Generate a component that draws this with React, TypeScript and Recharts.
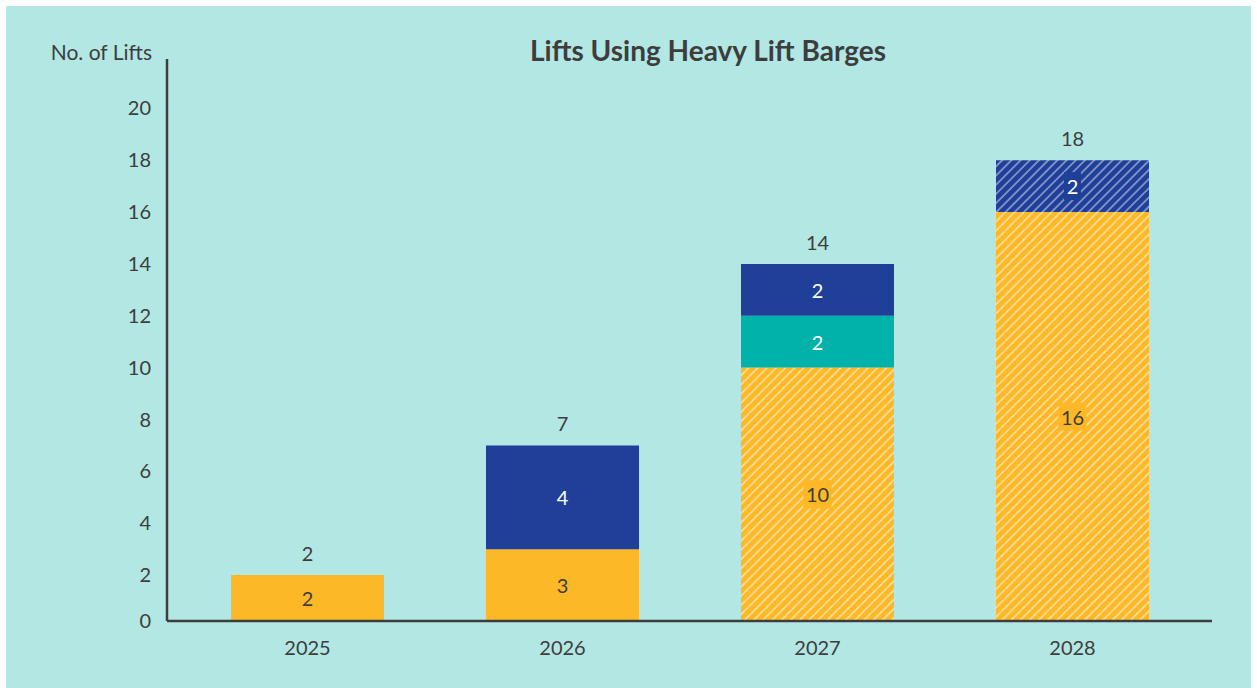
import { Bar, ComposedChart, LabelList, Line, XAxis, YAxis } from "recharts";

const years = ["2025", "2026", "2027", "2028"];
const yellowSolid = [2, 3, 0, 0];
const yellowHatched = [0, 0, 10, 16];
const tealSolid = [0, 0, 2, 0];
const navySolid = [0, 4, 2, 0];
const navyHatched = [0, 0, 0, 2];
const totals = [2, 7, 14, 18];
// the source draws its axis a touch above zero; the first tick sits on that line
const yFloor = 0.23;
const yTicks = [yFloor, 2, 4, 6, 8, 10, 12, 14, 16, 18, 20];

const data = years.map((year, i) => ({
  year,
  yellowSolid: yellowSolid[i],
  yellowHatched: yellowHatched[i],
  tealSolid: tealSolid[i],
  navySolid: navySolid[i],
  navyHatched: navyHatched[i],
  total: totals[i],
}));

const FONT = "Lato, 'Open Sans', sans-serif";
const INK = "#3d3d3d";
const YELLOW = "#FDB827";
const NAVY = "#1F3F99";
const TEAL = "#00B2AA";
const BG = "#B3E7E3";

// label in the middle of a segment, optional solid box behind it (hatched fills)
function segLabel(color: string, box?: string) {
  return (props: any) => {
    const { x, y, width, height, value } = props;
    if (!value) return null;
    const cx = x + width / 2;
    const cy = y + height / 2;
    const w = String(value).length * 11 + 6;
    return (
      <g>
        {box && <rect x={cx - w / 2} y={cy - 14} width={w} height={28} fill={box} />}
        <text
          x={cx}
          y={cy}
          textAnchor="middle"
          dominantBaseline="central"
          fill={color}
          fontSize={20}
          fontFamily={FONT}
        >
          {value}
        </text>
      </g>
    );
  };
}

export default function App() {
  return (
    <div
      style={{
        position: "absolute",
        left: 6,
        top: 6,
        width: 1245,
        height: 682,
        background: BG,
        fontFamily: FONT,
      }}
    >
      <div
        style={{
          position: "absolute",
          left: 0,
          width: 146,
          top: 33,
          textAlign: "right",
          fontSize: 21,
          color: INK,
        }}
      >
        No. of Lifts
      </div>
      <div
        style={{
          position: "absolute",
          left: 402,
          width: 600,
          top: 27,
          textAlign: "center",
          fontSize: 28,
          fontWeight: 700,
          color: INK,
        }}
      >
        Lifts Using Heavy Lift Barges
      </div>
      <ComposedChart
        width={1245}
        height={682}
        data={data}
        margin={{ top: 53, right: 39, left: 0, bottom: 37 }}
        barCategoryGap="20%"
      >
        <defs>
          <pattern
            id="hatchYellow"
            patternUnits="userSpaceOnUse"
            width={6.5}
            height={6.5}
            patternTransform="rotate(45)"
          >
            <rect width={6.5} height={6.5} fill={YELLOW} />
            <line x1={1} y1={0} x2={1} y2={6.5} stroke="rgba(255,255,255,0.55)" strokeWidth={1.6} />
          </pattern>
          <pattern
            id="hatchNavy"
            patternUnits="userSpaceOnUse"
            width={6.5}
            height={6.5}
            patternTransform="rotate(45)"
          >
            <rect width={6.5} height={6.5} fill={NAVY} />
            <line x1={1} y1={0} x2={1} y2={6.5} stroke="rgba(255,255,255,0.5)" strokeWidth={1.6} />
          </pattern>
        </defs>
        <XAxis
          dataKey="year"
          height={30}
          padding={{ left: 13, right: 12 }}
          tickLine={false}
          tickMargin={14}
          axisLine={{ stroke: INK, strokeWidth: 2.5 }}
          tick={{ fill: INK, fontSize: 20, fontFamily: FONT }}
        />
        <YAxis
          width={161}
          domain={[yFloor, 21.9]}
          allowDataOverflow
          ticks={yTicks}
          tickFormatter={(v: number) => String(Math.round(v))}
          tickLine={false}
          tickMargin={10}
          axisLine={{ stroke: INK, strokeWidth: 2.5 }}
          tick={{ fill: INK, fontSize: 20, fontFamily: FONT }}
        />
        <Bar dataKey="yellowSolid" stackId="a" fill={YELLOW} isAnimationActive={false}>
          <LabelList dataKey="yellowSolid" content={segLabel(INK)} />
        </Bar>
        <Bar dataKey="yellowHatched" stackId="a" fill="url(#hatchYellow)" isAnimationActive={false}>
          <LabelList dataKey="yellowHatched" content={segLabel(INK, YELLOW)} />
        </Bar>
        <Bar dataKey="tealSolid" stackId="a" fill={TEAL} isAnimationActive={false}>
          <LabelList dataKey="tealSolid" content={segLabel("#ffffff")} />
        </Bar>
        <Bar dataKey="navySolid" stackId="a" fill={NAVY} isAnimationActive={false}>
          <LabelList dataKey="navySolid" content={segLabel("#ffffff")} />
        </Bar>
        <Bar dataKey="navyHatched" stackId="a" fill="url(#hatchNavy)" isAnimationActive={false}>
          <LabelList dataKey="navyHatched" content={segLabel("#ffffff", NAVY)} />
        </Bar>
        <Line
          dataKey="total"
          stroke="none"
          dot={false}
          activeDot={false}
          isAnimationActive={false}
        >
          <LabelList
            dataKey="total"
            position="top"
            offset={14}
            fill={INK}
            fontSize={20}
            fontFamily={FONT}
          />
        </Line>
      </ComposedChart>
    </div>
  );
}
